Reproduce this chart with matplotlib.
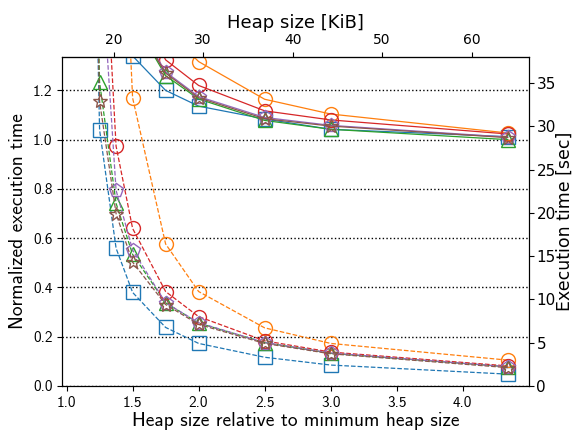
import numpy as np
import matplotlib
matplotlib.use("Agg")
import matplotlib.pyplot as plt

# heap size relative to the minimum heap size
rel_heap = [1.125, 1.25, 1.375, 1.5, 1.75, 2.0, 2.5, 3.0, 4.34]
min_heap_kib = 14.75
nan = np.nan

# normalized execution time (left axis, solid lines)
norm_blue = [nan, 2.0, 1.6, 1.34, 1.20, 1.136, 1.084, 1.042, 1.012]
norm_orange = [nan, 3.0, 2.5, 2.0, 1.45, 1.317, 1.164, 1.104, 1.027]
norm_green = [nan, 2.2, 1.8, 1.49, 1.26, 1.165, 1.078, 1.042, 1.0]
norm_red = [nan, 2.4, 2.0, 1.6, 1.324, 1.22, 1.117, 1.08, 1.023]
norm_purple = [nan, 2.2, 1.8, 1.50, 1.275, 1.175, 1.09, 1.058, 1.01]
norm_brown = [nan, 2.2, 1.8, 1.49, 1.27, 1.17, 1.085, 1.055, 1.008]

# execution time in seconds (right axis, dashed lines)
sec_blue = [120, 29.6, 15.9, 10.8, 6.75, 4.9, 3.3, 2.4, 1.35]
sec_orange = [nan, 120, 75, 33.3, 16.4, 10.9, 6.7, 4.9, 2.97]
sec_green = [120, 35.1, 21.1, 15.2, 9.6, 7.25, 5.0, 3.75, 2.2]
sec_red = [nan, 63, 27.7, 18.2, 10.9, 8.0, 5.2, 3.9, 2.3]
sec_purple = [nan, 52, 22.6, 15.7, 9.6, 7.3, 5.0, 3.8, 2.2]
sec_brown = [120, 32.9, 19.9, 14.3, 9.4, 7.1, 4.9, 3.7, 2.1]

norm_series = [norm_blue, norm_orange, norm_green, norm_red, norm_purple, norm_brown]
sec_series = [sec_blue, sec_orange, sec_green, sec_red, sec_purple, sec_brown]
colors = ["tab:blue", "tab:orange", "tab:green", "tab:red", "tab:purple", "tab:brown"]
markers = ["s", "o", "^", "o", "p", "*"]

cm = "cmss10"
other = "DejaVu Sans"

fig = plt.figure(figsize=(5.76, 4.33), dpi=100)
ax = fig.add_axes([0.108, 0.109, 0.810, 0.759])
ax2 = ax.twinx()

for ys, c, m in zip(norm_series, colors, markers):
    ax.plot(rel_heap, ys, color=c, marker=m, markersize=10, markerfacecolor="none",
            linewidth=0.9, markeredgewidth=1.0)
for ys, c, m in zip(sec_series, colors, markers):
    ax2.plot(rel_heap, ys, color=c, marker=m, markersize=10, markerfacecolor="none",
             linewidth=0.9, markeredgewidth=1.0, linestyle="--")

ax.set_xlim(0.967, 4.5)
ax.set_ylim(0, 1.335)
ax2.set_ylim(0, 38)
ax.set_yticks(np.arange(0, 1.21, 0.2))
ax2.set_yticks(np.arange(0, 36, 5))
ax.yaxis.grid(True, linestyle=":", color="black", linewidth=1.0)

ax.set_xlabel("Heap size relative to minimum heap size", fontsize=14, family=cm, labelpad=2)
ax.set_ylabel("Normalized execution time", fontsize=14, family=cm)
ax2.set_ylabel("Execution time [sec]", fontsize=12.5, family=other, labelpad=0)
ax.set_xticks(np.arange(1.0, 4.01, 0.5))
ax.set_xticklabels(["%.1f" % v for v in np.arange(1.0, 4.01, 0.5)], family=cm, fontsize=11)
ax.set_yticklabels(["%.1f" % v for v in np.arange(0, 1.21, 0.2)], family=cm, fontsize=11)
ax2.tick_params(labelsize=11, pad=2)

top = ax.secondary_xaxis("top", functions=(lambda x: x * min_heap_kib, lambda k: k / min_heap_kib))
top.set_xticks([20, 30, 40, 50, 60])
top.tick_params(labelsize=10)
top.set_xlabel("Heap size [KiB]", fontsize=13, family=other)

fig.savefig("out.png", dpi=100)
